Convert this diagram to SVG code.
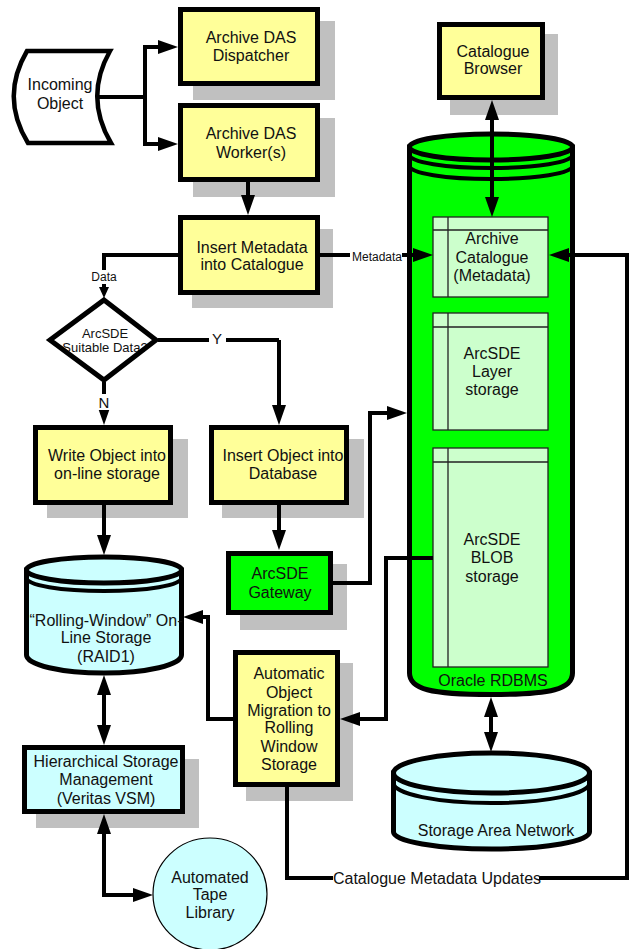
<svg xmlns="http://www.w3.org/2000/svg" width="629" height="949" viewBox="0 0 629 949">
<defs>
<marker id="ah" viewBox="0 0 20 14" refX="8" refY="7" markerWidth="20" markerHeight="14" markerUnits="userSpaceOnUse" orient="auto-start-reverse"><path d="M0,0L20,7L0,14z" fill="#000"/></marker>
<marker id="ahs" viewBox="0 0 11 10" refX="4" refY="5" markerWidth="11" markerHeight="10" markerUnits="userSpaceOnUse" orient="auto"><path d="M0,0L11,5L0,10z" fill="#000"/></marker>
</defs>
<style>
text{font-family:"Liberation Sans",Arial,sans-serif;font-size:16px;fill:#111;text-anchor:middle}
.sm{font-size:12px}
.md{font-size:13px}
.lb{font-size:15px}
.sh{fill:#c0c0c0}
.box{stroke:#000;stroke-width:5}
.y{fill:#ffff99}
.g{fill:#00ff00}
.c{fill:#ccffff}
.in{fill:#ccffcc;stroke:#222;stroke-width:1.3}
.thin{fill:none;stroke:#222;stroke-width:1.3}
.cyl{stroke:#000;stroke-width:5}
.ln{fill:none;stroke:#000;stroke-width:4}
.a{marker-end:url(#ah)}
.aa{marker-start:url(#ah);marker-end:url(#ah)}
.wb{fill:#fff}
</style>

<g id="incoming">
<path d="M27,51 L110,51 Q84,97 111,143 L28,143 Q0,97 27,51 Z" fill="#fff" stroke="#000" stroke-width="4.5"/>
<text x="60" y="90">Incoming</text>
<text x="60" y="109">Object</text>
</g>

<g id="dispatcher">
<rect class="sh" x="193" y="21" width="142" height="79"/>
<rect class="box y" x="180.5" y="9.5" width="137" height="74"/>
<text x="251" y="43">Archive DAS</text>
<text x="251" y="61">Dispatcher</text>
</g>

<g id="worker">
<rect class="sh" x="193" y="118" width="142" height="79"/>
<rect class="box y" x="180.5" y="105.5" width="137" height="74"/>
<text x="251" y="139">Archive DAS</text>
<text x="251" y="158">Worker(s)</text>
</g>

<g id="browser">
<rect class="sh" x="450" y="34" width="108" height="81"/>
<rect class="box y" x="439.5" y="24.5" width="103" height="73"/>
<text x="493" y="57">Catalogue</text>
<text x="493" y="74">Browser</text>
</g>

<g id="insert-metadata">
<rect class="sh" x="192" y="229" width="141" height="79"/>
<rect class="box y" x="180.5" y="217.5" width="137" height="75"/>
<text x="252" y="253">Insert Metadata</text>
<text x="252" y="270">into Catalogue</text>
</g>

<g id="decision">
<polygon points="104,300 156,340 104,380 50,340" fill="#fff"/>
<text class="md" x="105" y="338">ArcSDE</text>
<text class="md" x="105" y="352">Suitable Data?</text>
<polygon points="104,300 156,340 104,380 50,340" fill="none" stroke="#000" stroke-width="5"/>
</g>

<g id="write-object">
<rect class="sh" x="47" y="439" width="141" height="79"/>
<rect class="box y" x="35.5" y="427.5" width="135" height="75"/>
<text x="107" y="461">Write Object into</text>
<text x="107" y="479">on-line storage</text>
</g>

<g id="insert-object">
<rect class="sh" x="222" y="439" width="142" height="79"/>
<rect class="box y" x="211.5" y="427.5" width="135" height="75"/>
<text x="283" y="461">Insert Object into</text>
<text x="283" y="479">Database</text>
</g>

<g id="gateway">
<rect class="sh" x="240" y="564" width="107" height="66"/>
<rect class="box g" x="228.5" y="553.5" width="102" height="59"/>
<text x="280" y="579">ArcSDE</text>
<text x="280" y="598">Gateway</text>
</g>

<g id="rolling">
<path class="cyl c" d="M26.5,570 L26.5,655 A77.5,18 0 0 0 181.5,655 L181.5,570 Z"/>
<ellipse class="cyl c" cx="104" cy="570" rx="77.5" ry="13"/>
<path class="ln" d="M26.5,578 A77.5,13 0 0 0 181.5,578" stroke-width="5"/>
<text x="106" y="626">“Rolling-Window” On-</text>
<text x="106" y="643">Line Storage</text>
<text x="106" y="662">(RAID1)</text>
</g>

<g id="migration">
<rect class="sh" x="246" y="663" width="107" height="138"/>
<rect class="box y" x="235.5" y="652.5" width="102" height="132"/>
<text x="289" y="679">Automatic</text>
<text x="289" y="698">Object</text>
<text x="289" y="716">Migration to</text>
<text x="289" y="733">Rolling</text>
<text x="289" y="752">Window</text>
<text x="289" y="770">Storage</text>
</g>

<g id="hsm">
<rect class="sh" x="36" y="759" width="163" height="69"/>
<rect class="box c" x="24.5" y="747.5" width="158" height="64"/>
<text x="106" y="767">Hierarchical Storage</text>
<text x="106" y="785">Management</text>
<text x="106" y="804">(Veritas VSM)</text>
</g>

<g id="tape">
<ellipse cx="210" cy="894" rx="57" ry="56" fill="#ccffff" stroke="#000" stroke-width="1.2"/>
<text x="210" y="883">Automated</text>
<text x="210" y="900">Tape</text>
<text x="210" y="918">Library</text>
</g>

<g id="oracle">
<path class="cyl g" d="M409.5,147 L409.5,673 C409.5,689 430,694.5 491,694.5 C552,694.5 572.5,689 572.5,673 L572.5,147 Z"/>
<ellipse class="cyl g" cx="491" cy="147" rx="81.5" ry="13"/>
<path class="ln" d="M409.5,155 A81.5,13 0 0 0 572.5,155" stroke-width="4"/>
<path class="ln" d="M409.5,166 A81.5,13 0 0 0 572.5,166" stroke-width="4"/>
<text x="493" y="686">Oracle RDBMS</text>
</g>

<g id="archive-catalogue">
<rect class="in" x="433" y="217" width="115" height="80"/>
<path class="thin" d="M433,230 H548 M448,217 V297"/>
<text x="492" y="244">Archive</text>
<text x="492" y="263">Catalogue</text>
<text x="492" y="281">(Metadata)</text>
</g>

<g id="layer-storage">
<rect class="in" x="433" y="313" width="115" height="117"/>
<path class="thin" d="M433,327 H548 M448,313 V430"/>
<text x="492" y="359">ArcSDE</text>
<text x="492" y="377">Layer</text>
<text x="492" y="395">storage</text>
</g>

<g id="blob-storage">
<rect class="in" x="433" y="448" width="115" height="219"/>
<path class="thin" d="M433,462 H548 M448,448 V667"/>
<text x="492" y="545">ArcSDE</text>
<text x="492" y="563">BLOB</text>
<text x="492" y="582">storage</text>
</g>

<g id="san">
<path class="cyl c" d="M393.5,773 L393.5,832 A98,17 0 0 0 589.5,832 L589.5,773 Z"/>
<ellipse class="cyl c" cx="491.5" cy="773" rx="98" ry="20"/>
<path class="ln" d="M393.5,783 A98,20 0 0 0 589.5,783" stroke-width="5"/>
<text x="496" y="836">Storage Area Network</text>
</g>

<g id="connectors">
<path class="ln" d="M97,97 H145"/>
<path class="ln a" d="M145,97 V47 H166"/>
<path class="ln a" d="M145,97 V144 H166"/>
<path class="ln a" d="M248,182 V203"/>
<path class="ln aa" d="M492,112 V205"/>
<path class="ln" d="M320,255 H350"/>
<path class="ln a" d="M402,255 H421"/>
<path class="ln" d="M178,255 H104 V270"/>
<path class="ln" d="M104,284 V291" style="marker-end:url(#ahs)"/>
<path class="ln" d="M158,340 H279"/>
<path class="ln a" d="M279,340 V413"/>
<path class="ln a" d="M104,382 V413"/>
<path class="ln a" d="M104,505 V543"/>
<path class="ln a" d="M279,505 V538"/>
<path class="ln a" d="M333,583 H370 V413 H395"/>
<path class="ln a" d="M433,558 H386 V719 H352"/>
<path class="ln a" d="M233,719 H208 V617 H195"/>
<path class="ln aa" d="M104,687 V733"/>
<path class="ln aa" d="M104,826 V895 H141"/>
<path class="ln aa" d="M491,709 V740"/>
<path class="ln a" d="M287,787 V878 H627 V255 H561"/>
<rect class="wb" x="209" y="331" width="17" height="17"/>
<text class="lb" x="217" y="344">Y</text>
<rect class="wb" x="97" y="394" width="15" height="16"/>
<text class="lb" x="104" y="408">N</text>
<text class="sm" x="104" y="281">Data</text>
<text class="sm" x="377" y="261">Metadata</text>
<rect class="wb" x="333" y="870" width="206" height="16"/>
<text x="437" y="884">Catalogue Metadata Updates</text>
</g>
</svg>
